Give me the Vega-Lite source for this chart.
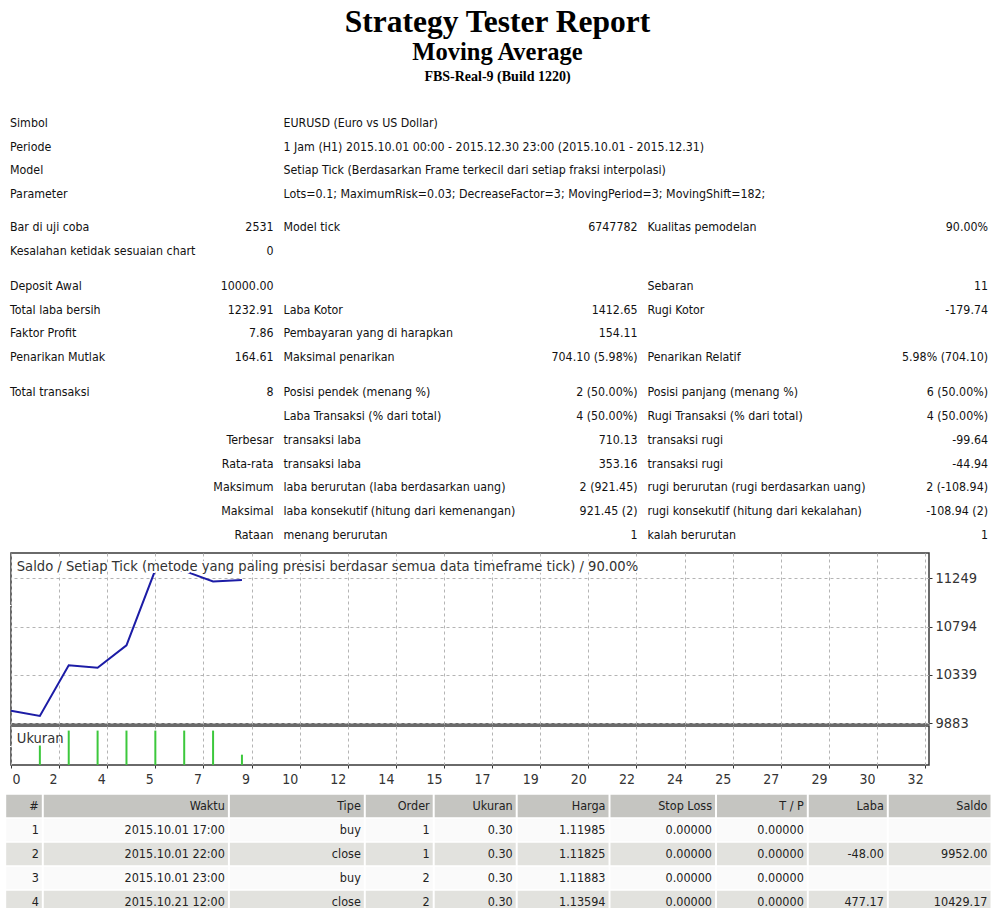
{
  "$schema": "https://vega.github.io/schema/vega-lite/v6.json",
  "background": "white",
  "padding": 0,
  "spacing": 0,
  "columns": 1,
  "align": "none",
  "bounds": "full",
  "config": {
    "view": {"stroke": null},
    "font": "DejaVu Sans Condensed, Liberation Sans",
    "axis": {"labelFont": "DejaVu Sans Condensed, Liberation Sans"}
  },
  "datasets": {
    "titles": [
      {"r": -3, "t": "Strategy Tester Report", "lv": "h1"},
      {"r": -2, "t": "Moving Average", "lv": "h2"},
      {"r": -1, "t": "FBS-Real-9 (Build 1220)", "lv": "h3"}
    ],
    "info": [
      {"r": 1, "c": 1, "t": "Simbol"}, {"r": 1, "c": 3, "t": "EURUSD (Euro vs US Dollar)"},
      {"r": 2, "c": 1, "t": "Periode"}, {"r": 2, "c": 3, "t": "1 Jam (H1) 2015.10.01 00:00 - 2015.12.30 23:00 (2015.10.01 - 2015.12.31)"},
      {"r": 3, "c": 1, "t": "Model"}, {"r": 3, "c": 3, "t": "Setiap Tick (Berdasarkan Frame terkecil dari setiap fraksi interpolasi)"},
      {"r": 4, "c": 1, "t": "Parameter"}, {"r": 4, "c": 3, "t": "Lots=0.1; MaximumRisk=0.03; DecreaseFactor=3; MovingPeriod=3; MovingShift=182;"},
      {"r": 5, "c": 1, "t": "Bar di uji coba"}, {"r": 5, "c": 2, "t": "2531"}, {"r": 5, "c": 3, "t": "Model tick"}, {"r": 5, "c": 4, "t": "6747782"}, {"r": 5, "c": 5, "t": "Kualitas pemodelan"}, {"r": 5, "c": 6, "t": "90.00%"},
      {"r": 6, "c": 1, "t": "Kesalahan ketidak sesuaian chart"}, {"r": 6, "c": 2, "t": "0"},
      {"r": 7, "c": 1, "t": "Deposit Awal"}, {"r": 7, "c": 2, "t": "10000.00"}, {"r": 7, "c": 5, "t": "Sebaran"}, {"r": 7, "c": 6, "t": "11"},
      {"r": 8, "c": 1, "t": "Total laba bersih"}, {"r": 8, "c": 2, "t": "1232.91"}, {"r": 8, "c": 3, "t": "Laba Kotor"}, {"r": 8, "c": 4, "t": "1412.65"}, {"r": 8, "c": 5, "t": "Rugi Kotor"}, {"r": 8, "c": 6, "t": "-179.74"},
      {"r": 9, "c": 1, "t": "Faktor Profit"}, {"r": 9, "c": 2, "t": "7.86"}, {"r": 9, "c": 3, "t": "Pembayaran yang di harapkan"}, {"r": 9, "c": 4, "t": "154.11"},
      {"r": 10, "c": 1, "t": "Penarikan Mutlak"}, {"r": 10, "c": 2, "t": "164.61"}, {"r": 10, "c": 3, "t": "Maksimal penarikan"}, {"r": 10, "c": 4, "t": "704.10 (5.98%)"}, {"r": 10, "c": 5, "t": "Penarikan Relatif"}, {"r": 10, "c": 6, "t": "5.98% (704.10)"},
      {"r": 11, "c": 1, "t": "Total transaksi"}, {"r": 11, "c": 2, "t": "8"}, {"r": 11, "c": 3, "t": "Posisi pendek (menang %)"}, {"r": 11, "c": 4, "t": "2 (50.00%)"}, {"r": 11, "c": 5, "t": "Posisi panjang (menang %)"}, {"r": 11, "c": 6, "t": "6 (50.00%)"},
      {"r": 12, "c": 3, "t": "Laba Transaksi (% dari total)"}, {"r": 12, "c": 4, "t": "4 (50.00%)"}, {"r": 12, "c": 5, "t": "Rugi Transaksi (% dari total)"}, {"r": 12, "c": 6, "t": "4 (50.00%)"},
      {"r": 13, "c": 2, "t": "Terbesar"}, {"r": 13, "c": 3, "t": "transaksi laba"}, {"r": 13, "c": 4, "t": "710.13"}, {"r": 13, "c": 5, "t": "transaksi rugi"}, {"r": 13, "c": 6, "t": "-99.64"},
      {"r": 14, "c": 2, "t": "Rata-rata"}, {"r": 14, "c": 3, "t": "transaksi laba"}, {"r": 14, "c": 4, "t": "353.16"}, {"r": 14, "c": 5, "t": "transaksi rugi"}, {"r": 14, "c": 6, "t": "-44.94"},
      {"r": 15, "c": 2, "t": "Maksimum"}, {"r": 15, "c": 3, "t": "laba berurutan (laba berdasarkan uang)"}, {"r": 15, "c": 4, "t": "2 (921.45)"}, {"r": 15, "c": 5, "t": "rugi berurutan (rugi berdasarkan uang)"}, {"r": 15, "c": 6, "t": "2 (-108.94)"},
      {"r": 16, "c": 2, "t": "Maksimal"}, {"r": 16, "c": 3, "t": "laba konsekutif (hitung dari kemenangan)"}, {"r": 16, "c": 4, "t": "921.45 (2)"}, {"r": 16, "c": 5, "t": "rugi konsekutif (hitung dari kekalahan)"}, {"r": 16, "c": 6, "t": "-108.94 (2)"},
      {"r": 17, "c": 2, "t": "Rataan"}, {"r": 17, "c": 3, "t": "menang berurutan"}, {"r": 17, "c": 4, "t": "1"}, {"r": 17, "c": 5, "t": "kalah berurutan"}, {"r": 17, "c": 6, "t": "1"}
    ],
    "balance": [
      {"n": 0, "b": 10000}, {"n": 1, "b": 9952}, {"n": 2, "b": 10429.17}, {"n": 3, "b": 10406.37},
      {"n": 4, "b": 10617.69}, {"n": 5, "b": 11327.82}, {"n": 6, "b": 11318.52}, {"n": 7, "b": 11218.88}, {"n": 8, "b": 11232.91}
    ],
    "ukuran": [
      {"n": 1, "v": 0.17}, {"n": 2, "v": 0.3}, {"n": 3, "v": 0.3}, {"n": 4, "v": 0.3},
      {"n": 5, "v": 0.3}, {"n": 6, "v": 0.3}, {"n": 7, "v": 0.3}, {"n": 8, "v": 0.09}
    ],
    "cells": [
      {"r": 0, "c": 1, "v": "#"}, {"r": 0, "c": 2, "v": "Waktu"}, {"r": 0, "c": 3, "v": "Tipe"}, {"r": 0, "c": 4, "v": "Order"}, {"r": 0, "c": 5, "v": "Ukuran"}, {"r": 0, "c": 6, "v": "Harga"}, {"r": 0, "c": 7, "v": "Stop Loss"}, {"r": 0, "c": 8, "v": "T / P"}, {"r": 0, "c": 9, "v": "Laba"}, {"r": 0, "c": 10, "v": "Saldo"},
      {"r": 1, "c": 1, "v": "1"}, {"r": 1, "c": 2, "v": "2015.10.01 17:00"}, {"r": 1, "c": 3, "v": "buy"}, {"r": 1, "c": 4, "v": "1"}, {"r": 1, "c": 5, "v": "0.30"}, {"r": 1, "c": 6, "v": "1.11985"}, {"r": 1, "c": 7, "v": "0.00000"}, {"r": 1, "c": 8, "v": "0.00000"}, {"r": 1, "c": 9, "v": ""}, {"r": 1, "c": 10, "v": ""},
      {"r": 2, "c": 1, "v": "2"}, {"r": 2, "c": 2, "v": "2015.10.01 22:00"}, {"r": 2, "c": 3, "v": "close"}, {"r": 2, "c": 4, "v": "1"}, {"r": 2, "c": 5, "v": "0.30"}, {"r": 2, "c": 6, "v": "1.11825"}, {"r": 2, "c": 7, "v": "0.00000"}, {"r": 2, "c": 8, "v": "0.00000"}, {"r": 2, "c": 9, "v": "-48.00"}, {"r": 2, "c": 10, "v": "9952.00"},
      {"r": 3, "c": 1, "v": "3"}, {"r": 3, "c": 2, "v": "2015.10.01 23:00"}, {"r": 3, "c": 3, "v": "buy"}, {"r": 3, "c": 4, "v": "2"}, {"r": 3, "c": 5, "v": "0.30"}, {"r": 3, "c": 6, "v": "1.11883"}, {"r": 3, "c": 7, "v": "0.00000"}, {"r": 3, "c": 8, "v": "0.00000"}, {"r": 3, "c": 9, "v": ""}, {"r": 3, "c": 10, "v": ""},
      {"r": 4, "c": 1, "v": "4"}, {"r": 4, "c": 2, "v": "2015.10.21 12:00"}, {"r": 4, "c": 3, "v": "close"}, {"r": 4, "c": 4, "v": "2"}, {"r": 4, "c": 5, "v": "0.30"}, {"r": 4, "c": 6, "v": "1.13594"}, {"r": 4, "c": 7, "v": "0.00000"}, {"r": 4, "c": 8, "v": "0.00000"}, {"r": 4, "c": 9, "v": "477.17"}, {"r": 4, "c": 10, "v": "10429.17"}
    ]
  },
  "concat": [
    {
      "width": 973,
      "height": 552,
      "layer": [
        {
          "data": {"name": "titles"},
          "transform": [{"filter": "datum.lv == 'h1'"}],
          "mark": {"type": "text", "font": "Liberation Serif", "fontWeight": "bold", "fontSize": 31.5, "baseline": "alphabetic", "align": "center", "color": "#000000"},
          "encoding": {
            "y": {"field": "r", "type": "quantitative", "scale": {"domain": [-3, -2, -1, 1, 4, 5, 6, 7, 10, 11, 17], "range": [31.7, 59.5, 81, 123, 194, 227, 251, 286, 357, 392, 535], "nice": false, "zero": false}, "axis": null},
            "text": {"field": "t"}
          }
        },
        {
          "data": {"name": "titles"},
          "transform": [{"filter": "datum.lv == 'h2'"}],
          "mark": {"type": "text", "font": "Liberation Serif", "fontWeight": "bold", "fontSize": 24.5, "baseline": "alphabetic", "align": "center", "color": "#000000"},
          "encoding": {
            "y": {"field": "r", "type": "quantitative", "axis": null},
            "text": {"field": "t"}
          }
        },
        {
          "data": {"name": "titles"},
          "transform": [{"filter": "datum.lv == 'h3'"}],
          "mark": {"type": "text", "font": "Liberation Serif", "fontWeight": "bold", "fontSize": 14, "baseline": "alphabetic", "align": "center", "color": "#000000"},
          "encoding": {
            "y": {"field": "r", "type": "quantitative", "axis": null},
            "text": {"field": "t"}
          }
        },
        {
          "data": {"name": "info"},
          "transform": [{"filter": "datum.c % 2 == 1"}],
          "mark": {"type": "text", "align": "left", "baseline": "middle", "fontSize": 12.3, "color": "#111111"},
          "encoding": {
            "x": {"field": "c", "type": "quantitative", "scale": {"domain": [1, 2, 3, 4, 5, 6], "range": [-1, 262.5, 272.5, 626.5, 636.5, 977], "nice": false, "zero": false}, "axis": null},
            "y": {"field": "r", "type": "quantitative", "axis": null},
            "text": {"field": "t"}
          }
        },
        {
          "data": {"name": "info"},
          "transform": [{"filter": "datum.c % 2 == 0"}],
          "mark": {"type": "text", "align": "right", "baseline": "middle", "fontSize": 12.3, "color": "#111111"},
          "encoding": {
            "x": {"field": "c", "type": "quantitative", "axis": null},
            "y": {"field": "r", "type": "quantitative", "axis": null},
            "text": {"field": "t"}
          }
        }
      ]
    },
    {
      "spacing": 2,
      "bounds": "flush",
      "vconcat": [
        {
          "width": 918,
          "height": 171,
          "view": {"stroke": "#3a3a3a", "strokeWidth": 1.5},
          "resolve": {"axis": {"y": "independent"}},
          "layer": [
            {
              "data": {"name": "balance"},
              "mark": {"type": "line", "color": "#1c1ca6", "strokeWidth": 2},
              "encoding": {
                "x": {"field": "n", "type": "quantitative", "scale": {"domain": [0, 31.8], "nice": false, "zero": false},
                  "axis": {"values": [0, 1.6667, 3.3333, 5, 6.6667, 8.3333, 10, 11.6667, 13.3333, 15, 16.6667, 18.3333, 20, 21.6667, 23.3333, 25, 26.6667, 28.3333, 30, 31.6667],
                    "grid": true, "gridDash": [3, 3], "gridColor": "#b4b4b4", "labels": false, "ticks": false, "domain": false, "title": null, "minExtent": 0, "maxExtent": 0}},
                "y": {"field": "b", "type": "quantitative", "scale": {"domain": [9876, 11487], "nice": false, "zero": false},
                  "axis": {"orient": "right", "values": [9883, 10338.67, 10794.33, 11249], "format": ".0f", "grid": true, "gridDash": [3, 3], "gridColor": "#b4b4b4",
                    "domain": false, "ticks": true, "tickSize": 3, "tickColor": "#333333", "labelPadding": 3, "labelFontSize": 14.5, "labelColor": "#333333", "labelBaseline": "middle", "title": null}}
              }
            },
            {
              "data": {"values": [{"t": "Saldo / Setiap Tick (metode yang paling presisi berdasar semua data timeframe tick) / 90.00%"}]},
              "mark": {"type": "text", "align": "left", "baseline": "alphabetic", "fontSize": 14.6, "color": "white", "stroke": "white", "strokeWidth": 4, "strokeJoin": "round"},
              "encoding": {
                "x": {"datum": 0.2, "type": "quantitative"},
                "y": {"datum": 11313, "type": "quantitative", "axis": {"orient": "left", "values": [11000], "labels": false, "domain": false, "grid": false, "ticks": true, "tickSize": 9, "tickColor": "white", "title": null, "minExtent": 9, "maxExtent": 9}},
                "text": {"field": "t"}
              }
            },
            {
              "data": {"values": [{"t": "Saldo / Setiap Tick (metode yang paling presisi berdasar semua data timeframe tick) / 90.00%"}]},
              "mark": {"type": "text", "align": "left", "baseline": "alphabetic", "fontSize": 14.6, "color": "#333333"},
              "encoding": {
                "x": {"datum": 0.2, "type": "quantitative"},
                "y": {"datum": 11313, "type": "quantitative", "axis": null},
                "text": {"field": "t"}
              }
            }
          ]
        },
        {
          "width": 918,
          "height": 39,
          "view": {"stroke": "#3a3a3a", "strokeWidth": 1.5},
          "layer": [
            {
              "data": {"name": "ukuran"},
              "mark": {"type": "rule", "color": "#3cc83c", "strokeWidth": 2},
              "encoding": {
                "x": {"field": "n", "type": "quantitative", "scale": {"domain": [0, 31.8], "nice": false, "zero": false},
                  "axis": {"orient": "bottom", "values": [0, 1.6667, 3.3333, 5, 6.6667, 8.3333, 10, 11.6667, 13.3333, 15, 16.6667, 18.3333, 20, 21.6667, 23.3333, 25, 26.6667, 28.3333, 30, 31.6667],
                    "labelExpr": "ceil(datum.value)", "grid": true, "gridDash": [3, 3], "gridColor": "#b4b4b4", "domain": false, "ticks": true, "tickSize": 3, "tickColor": "#333333",
                    "labelPadding": 4, "labelFontSize": 14, "labelColor": "#333333", "labelBaseline": "top", "labelFlush": false, "labelOverlap": false,
                    "labelAlign": {"condition": {"test": "datum.value == 0", "value": "left"}, "value": "right"},
                    "labelOffset": {"condition": {"test": "datum.value == 0", "value": 1}, "value": -2},
                    "title": null, "minExtent": 27, "maxExtent": 27}},
                "y": {"field": "v", "type": "quantitative", "scale": {"domain": [0, 0.34], "nice": false, "zero": false},
                  "axis": {"orient": "left", "values": [0.17], "labels": false, "domain": false, "grid": false, "ticks": true, "tickSize": 9, "tickColor": "white", "title": null, "minExtent": 9, "maxExtent": 9}},
                "y2": {"datum": 0}
              }
            },
            {
              "data": {"values": [{"t": "Ukuran"}]},
              "mark": {"type": "text", "align": "left", "baseline": "alphabetic", "fontSize": 14.6, "color": "#333333"},
              "encoding": {
                "x": {"datum": 0.2, "type": "quantitative"},
                "y": {"datum": 0.194, "type": "quantitative"},
                "text": {"field": "t"}
              }
            }
          ]
        }
      ]
    },
    {
      "width": 980,
      "height": 120,
      "layer": [
        {
          "data": {"name": "cells"},
          "transform": [{"filter": "datum.c == 1"}],
          "mark": {"type": "rect"},
          "encoding": {
            "x": {"datum": 0, "type": "quantitative", "scale": {"domain": [0, 1, 2, 3, 4, 5, 6, 7, 8, 9, 10], "range": [-4.8, 31.8, 217.9, 353.8, 422.7, 505.7, 598.5, 705, 796.8, 876.8, 980.5], "nice": false, "zero": false}, "axis": null},
            "x2": {"datum": 10},
            "y": {"field": "r", "type": "ordinal", "scale": {"type": "band", "domain": [0, 1, 2, 3, 4], "paddingInner": 0.06, "paddingOuter": 0.03}, "axis": null},
            "color": {"field": "r", "type": "ordinal", "scale": {"domain": [0, 1, 2, 3, 4], "range": ["#c5c5c1", "#fafafa", "#e2e2de", "#fafafa", "#e2e2de"]}, "legend": null}
          }
        },
        {
          "data": {"name": "cells"},
          "transform": [{"filter": "datum.r == 0"}],
          "mark": {"type": "rule", "color": "white", "strokeWidth": 2},
          "encoding": {
            "x": {"field": "c", "type": "quantitative", "axis": null}
          }
        },
        {
          "data": {"name": "cells"},
          "mark": {"type": "text", "align": "right", "baseline": "middle", "dx": -4, "fontSize": 12.5, "color": "#222222"},
          "encoding": {
            "x": {"field": "c", "type": "quantitative", "axis": null},
            "y": {"field": "r", "type": "ordinal", "axis": null},
            "text": {"field": "v"}
          }
        }
      ]
    }
  ]
}
